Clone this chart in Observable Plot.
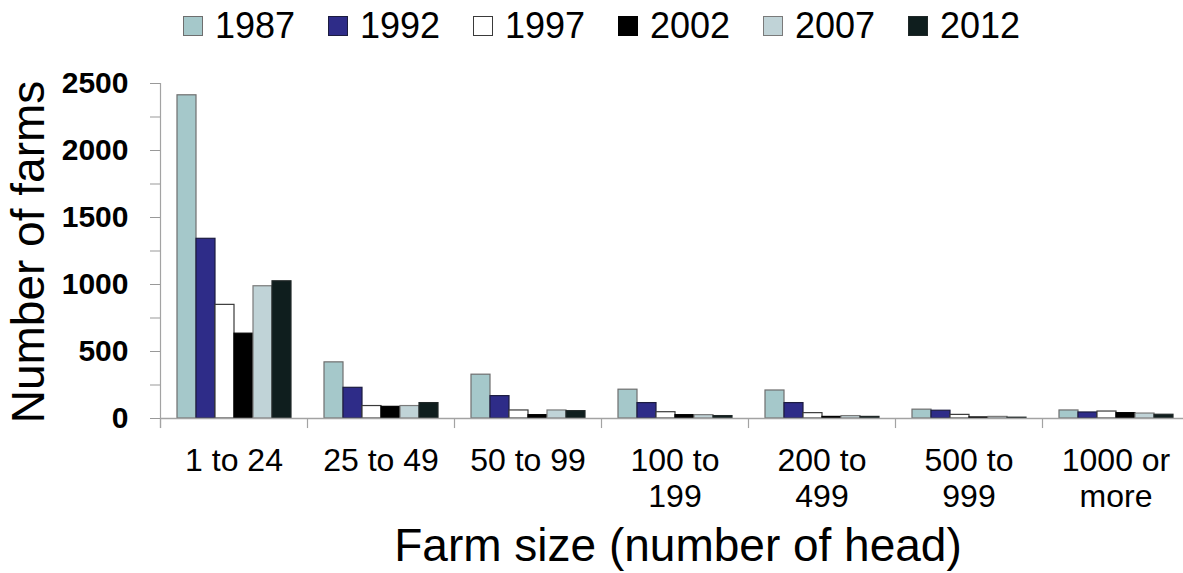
<!DOCTYPE html>
<html><head><meta charset="utf-8">
<script src="https://cdn.jsdelivr.net/npm/d3@7"></script>
<script src="https://cdn.jsdelivr.net/npm/@observablehq/plot@0.6"></script>
<style>
html,body{margin:0;padding:0;background:#fff;overflow:hidden}
#wrap{position:relative;width:1183px;height:573px;font-family:"Liberation Sans",Arial,sans-serif;color:#000}
#wrap svg{position:absolute;left:0;top:0}
.legend{position:absolute;left:183px;top:8px;display:flex}
.item{display:flex;align-items:center;width:145px;font-size:36px;line-height:1}
.sw{width:18px;height:18px;border:1px solid;margin-right:12px;box-sizing:content-box}
.title{position:absolute;font-size:46px;line-height:1;white-space:nowrap;transform:translate(-50%,-50%)}
</style></head><body><div id="wrap"></div>
<script>
const categories = ["1 to 24","25 to 49","50 to 99","100 to\n199","200 to\n499","500 to\n999","1000 or\nmore"];
const years = ["1987","1992","1997","2002","2007","2012"];
const v1987 = [2412, 419, 327, 215, 209, 66, 60];
const v1992 = [1341, 229, 167, 115, 115, 58, 45];
const v1997 = [848, 93, 60, 47, 40, 27, 52];
const v2002 = [633, 87, 25, 25, 12, 8, 40];
const v2007 = [987, 93, 60, 25, 18, 12, 37];
const v2012 = [1024, 115, 55, 18, 12, 6, 28];
const fills = ["#a5c8ca","#2e2c88","#ffffff","#000000","#c0d3d7","#0f1e1e"];
const strokes = ["#6e6e6e","#1c1c40","#3a3a3a","#000000","#7a7a7a","#202828"];
const yTicks = [0,250,500,750,1000,1250,1500,1750,2000,2250,2500];
const yLabels = [0,500,1000,1500,2000,2500];

const series = [v1987,v1992,v1997,v2002,v2007,v2012];
const data = categories.flatMap((c,i) => years.map((y,j) => ({category:c, year:y, value:series[j][i]})));
const strokeOf = Object.fromEntries(years.map((y,j) => [y, strokes[j]]));

const chart = Plot.plot({
  width:1183, height:573, marginTop:83, marginBottom:155, marginLeft:160, marginRight:0,
  style:{fontFamily:'"Liberation Sans", Arial, sans-serif', background:"transparent", color:"#000"},
  fx:{domain:categories, range:[160,1189], padding:0, label:null},
  x:{domain:years, paddingInner:0, paddingOuter:0.769, axis:null},
  y:{domain:[0,2500], label:null},
  color:{domain:years, range:fills},
  marks:[
    Plot.barY(data, {fx:"category", x:"year", y:"value", fill:"year", stroke:d => strokeOf[d.year], strokeWidth:1.2}),
    Plot.ruleY([0], {stroke:"#a3a3a3", strokeWidth:1.4}),
    Plot.ruleX(categories, {fx:d => d, x:null, y1:0, y2:-75, dx:-73.5, stroke:"#a3a3a3", strokeWidth:1.2}),
    Plot.ruleX([categories[0]], {fx:d => d, x:null, y1:-75, y2:2500, dx:-73.5, stroke:"#a3a3a3", strokeWidth:1.2}),
    Plot.axisY({ticks:yTicks, tickSize:10, stroke:"#999", tickFormat:() => "", label:null}),
    Plot.axisY({ticks:yLabels, tickSize:0, tickPadding:32, fontSize:30, fontWeight:"bold", fill:"#000", tickFormat:d => String(d), label:null}),
    Plot.axisFx({anchor:"bottom", tickSize:0, tickPadding:27, fontSize:32, lineHeight:1.12, fill:"#000", label:null})
  ]
});

const wrap = document.getElementById("wrap");
wrap.appendChild(chart);

const legend = d3.select(wrap).append("div").attr("class","legend");
years.forEach((y,j) => {
  const it = legend.append("div").attr("class","item");
  it.append("div").attr("class","sw").style("background", fills[j]).style("border-color", strokes[j]);
  it.append("span").text(y);
});

d3.select(wrap).append("div").attr("class","title")
  .style("left","28px").style("top","252px")
  .style("transform","translate(-50%,-50%) rotate(-90deg)")
  .text("Number of farms");
d3.select(wrap).append("div").attr("class","title")
  .style("left","678px").style("top","545px")
  .text("Farm size (number of head)");
</script>
</body></html>
